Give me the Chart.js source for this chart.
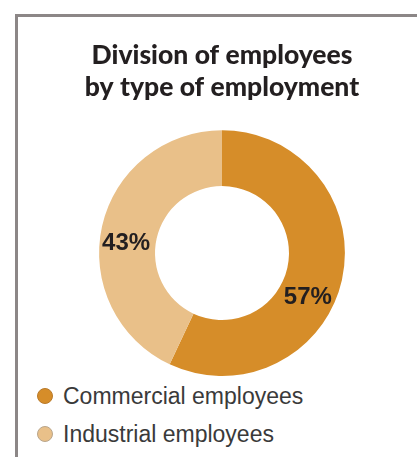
<!DOCTYPE html>
<html>
<head>
<meta charset="utf-8">
<script src="https://cdn.jsdelivr.net/npm/chart.js@4/dist/chart.umd.min.js"></script>
<style>
    html, body { margin: 0; padding: 0; background: #fff; }
    body { width: 417px; height: 457px; position: relative; overflow: hidden; }
    .frame {
        position: absolute; left: 15px; top: 14px; right: -5px; bottom: -5px;
        border-left: 3px solid #8c8787; border-top: 3px solid #8c8787;
    }
    #shareChart { position: absolute; left: 0; top: 0; }
    .legend { position: absolute; left: 37px; top: 377px; font-family: "Liberation Sans", Arial, sans-serif; }
    .legend-item { display: flex; align-items: center; height: 38px; font-size: 23px; color: #3a3a3a; }
    .legend-dot { width: 16px; height: 16px; border-radius: 50%; margin-right: 10px; box-sizing: border-box; }
</style>
</head>
<body>
<div class="frame"></div>
<canvas id="shareChart" width="417" height="376"></canvas>
<div class="legend" id="legend"></div>
<script>
// employees by type of employment, in percent
const categories = ["Commercial employees", "Industrial employees"];
const shares = [57, 43];
const colors = ["#d68d29", "#e9c089"];
const dotBorders = ["#b97a2a", "#b9a68c"];
// where along each ring segment its percent label sits (0 = start, 1 = end)
const labelSpots = [0.571, 0.457];

const percentLabels = {
    id: "percentLabels",
    afterDatasetsDraw(chart) {
        const ctx = chart.ctx;
        const arcs = chart.getDatasetMeta(0).data;
        ctx.save();
        ctx.font = "bold 24px 'Liberation Sans', Arial, sans-serif";
        ctx.fillStyle = "#231f20";
        ctx.textAlign = "center";
        ctx.textBaseline = "middle";
        arcs.forEach((arc, i) => {
            const p = arc.getProps(["x", "y", "startAngle", "endAngle", "innerRadius", "outerRadius"], true);
            const a = p.startAngle + (p.endAngle - p.startAngle) * labelSpots[i];
            const r = (p.innerRadius + p.outerRadius) / 2 + 1.5;
            ctx.fillText(shares[i] + "%", p.x + Math.cos(a) * r, p.y + Math.sin(a) * r);
        });
        ctx.restore();
    }
};

new Chart(document.getElementById("shareChart"), {
    type: "doughnut",
    data: {
        labels: categories,
        datasets: [{
            data: shares,
            backgroundColor: colors,
            borderWidth: 0
        }]
    },
    options: {
        responsive: false,
        animation: false,
        cutout: "54.5%",
        layout: { padding: { left: 27 } },
        plugins: {
            legend: { display: false },
            tooltip: { enabled: false },
            title: {
                display: true,
                text: ["Division of employees", "by type of employment"],
                color: "#231f20",
                font: { family: "Lato", weight: 900, size: 26.5, lineHeight: 1.23 },
                padding: { top: 39, bottom: 26 }
            }
        }
    },
    plugins: [percentLabels]
});

const legend = document.getElementById("legend");
categories.forEach((name, i) => {
    const item = document.createElement("div");
    item.className = "legend-item";
    item.innerHTML = `<span class="legend-dot" style="background:${colors[i]};border:1px solid ${dotBorders[i]}"></span>${name}`;
    legend.appendChild(item);
});
</script>
</body>
</html>
